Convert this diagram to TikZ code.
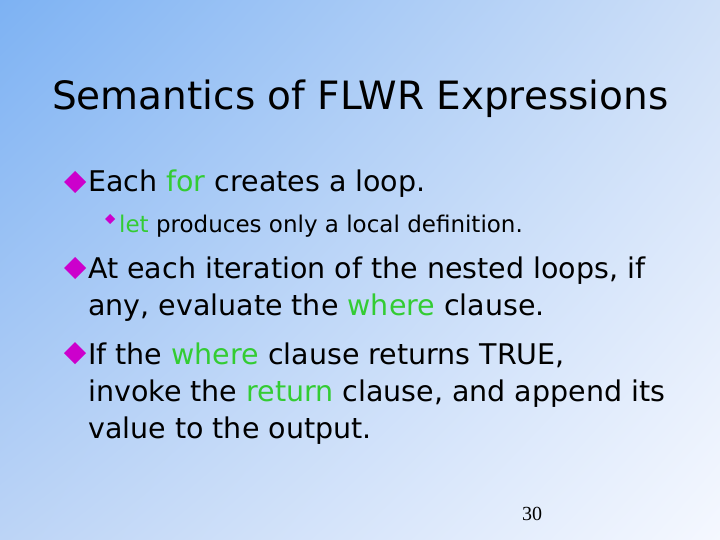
\documentclass[tikz,border=0pt]{standalone}
\usepackage{fontspec}
\usetikzlibrary{shadings}
\setmainfont{DejaVu Sans}
\newfontfamily\numfont{Liberation Serif}
\definecolor{grn}{HTML}{33CC33}
\definecolor{mag}{HTML}{CC00CC}
\definecolor{ul}{HTML}{7DB2F3}
\definecolor{ur}{HTML}{CFE0F8}
\definecolor{ll}{HTML}{BCD4F6}
\definecolor{lr}{HTML}{F5F8FF}
\newcommand{\kw}[1]{\textcolor{grn}{#1}}
\tikzset{
  title/.style={anchor=base west, inner sep=0, font=\fontsize{39}{40}\selectfont},
  body/.style={anchor=base west, inner sep=0, font=\fontsize{28.5}{30}\selectfont},
  sub/.style={anchor=base west, inner sep=0, font=\fontsize{23}{25}\selectfont},
  bigbul/.style={fill=mag, draw=none},
}
\begin{document}
\begin{tikzpicture}[x=1pt,y=-1pt]
\useasboundingbox (0,0) rectangle (720,540);
\shade[upper left=ul, upper right=ur, lower left=ll, lower right=lr] (0,0) rectangle (720,540);
\node[title] (t) at (52,110) {Semantics of FLWR Expressions};
% bullets
\fill[bigbul] (64,182) -- (75,171) -- (86,182) -- (75,193) -- cycle;
\node[body] (l1) at (88,192) {Each \kw{for} creates a loop.};
\fill[bigbul] (105,219) -- (110,214) -- (115,219) -- (110,224) -- cycle;
\node[sub] (l2) at (119,233) {\kw{let} produces only a local definition.};
\fill[bigbul] (64,268) -- (75,257) -- (86,268) -- (75,279) -- cycle;
\node[body] (l3) at (88,278) {At each iteration of the nested loops, if};
\node[body] (l4) at (88,315) {any, evaluate the \kw{where} clause.};
\fill[bigbul] (64,353) -- (75,342) -- (86,353) -- (75,364) -- cycle;
\node[body] (l5) at (88,364) {If the \kw{where} clause returns TRUE,};
\node[body] (l6) at (88,401) {invoke the \kw{return} clause, and append its};
\node[body] (l7) at (88,438) {value to the output.};
\node[anchor=base west, inner sep=0, font=\numfont\fontsize{20}{22}\selectfont] (n) at (522,520) {30};
\end{tikzpicture}
\end{document}
